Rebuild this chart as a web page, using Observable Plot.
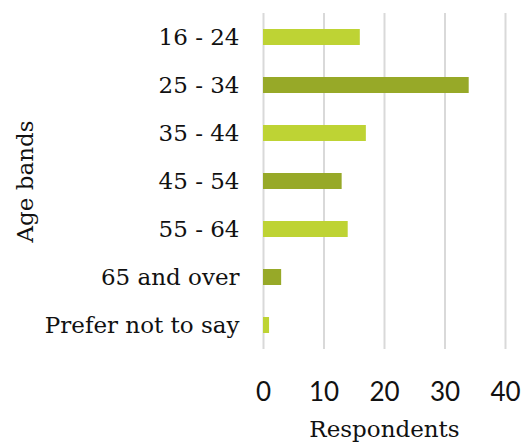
<!DOCTYPE html>
<html>
<head>
<meta charset="utf-8">
<script src="https://cdn.jsdelivr.net/npm/d3@7"></script>
<script src="https://cdn.jsdelivr.net/npm/@observablehq/plot@0.6"></script>
<style>
  html, body { margin: 0; padding: 0; background: #fff; }
</style>
</head>
<body>
<div id="chart"></div>
<script>
// Survey respondents by age band
const bands = ["16 - 24", "25 - 34", "35 - 44", "45 - 54", "55 - 64", "65 and over", "Prefer not to say"];
const respondents = [16, 34, 17, 13, 14, 3, 1];
const xTicks = [0, 10, 20, 30, 40];

const lightGreen = "#bed334";
const darkGreen = "#97a928";
const serif = "DejaVu Serif";

const rows = bands.map((band, i) => ({band, value: respondents[i], idx: i}));

const chart = Plot.plot({
  width: 527,
  height: 443,
  marginLeft: 263,
  marginRight: 22,
  marginTop: 13,
  marginBottom: 94,
  style: {background: "#fff", color: "#000"},
  x: {domain: [0, 40], ticks: xTicks},
  y: {domain: bands, paddingInner: 0.667, paddingOuter: 0.3335},
  marks: [
    Plot.gridX(xTicks, {stroke: "#d9d9d9", strokeOpacity: 1, strokeWidth: 2}),
    Plot.barX(rows, {
      x: "value",
      y: "band",
      fill: d => d.idx % 2 === 0 ? lightGreen : darkGreen
    }),
    Plot.axisY({
      tickSize: 0,
      tickPadding: 24,
      label: null,
      fontFamily: serif,
      fontSize: 23,
      fill: "#111"
    }),
    Plot.axisX(xTicks, {
      tickSize: 0,
      tickPadding: 33,
      label: null,
      fontFamily: "Lato",
      fontSize: 26,
      fill: "#111"
    }),
    Plot.text(["Respondents"], {
      frameAnchor: "bottom",
      dy: 80,
      textAnchor: "middle",
      lineAnchor: "middle",
      fontFamily: serif,
      fontSize: 23,
      fill: "#111"
    }),
    Plot.text(["Age bands"], {
      frameAnchor: "left",
      dx: -238,
      rotate: -90,
      textAnchor: "middle",
      lineAnchor: "middle",
      fontFamily: serif,
      fontSize: 23,
      fill: "#111"
    })
  ]
});

document.getElementById("chart").appendChild(chart);
</script>
</body>
</html>
